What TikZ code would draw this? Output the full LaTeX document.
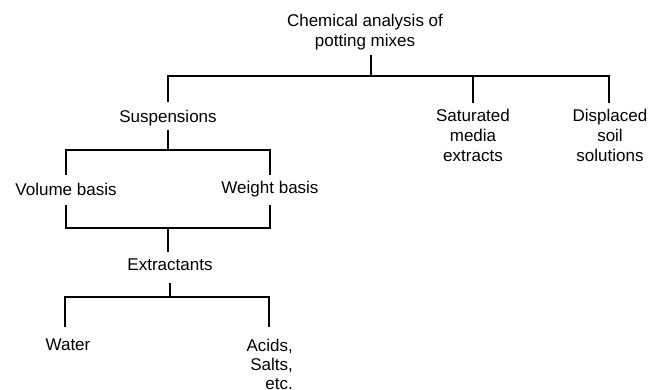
\documentclass[tikz,border=0pt]{standalone}
\usepackage{fontspec}
\setmainfont{Liberation Sans}
\begin{document}
\begin{tikzpicture}[x=1pt,y=-1pt,
  lbl/.style={font=\fontsize{17}{20}\selectfont, align=center, inner sep=0pt},
  ln/.style={line width=1.2pt},
  thk/.style={line width=2.6pt}]
\useasboundingbox (0,0) rectangle (661,390);
% texts
\node[lbl] (title) at (365,32) {Chemical analysis of\\potting mixes};
\node[lbl] (susp) at (168,118) {Suspensions};
\node[lbl] (sat) at (473,135) {Saturated\\media\\extracts};
\node[lbl] (disp) at (610,135) {Displaced\\soil\\solutions};
\node[lbl] (vol) at (66,189) {Volume basis};
\node[lbl] (wt) at (270,189) {Weight basis};
\node[lbl] (extr) at (170,265) {Extractants};
\node[lbl] (water) at (68,345) {Water};
\node[lbl, align=right, anchor=east, font=\fontsize{17}{19}\selectfont] (acid) at (293,364) {Acids,\\Salts,\\etc.};
% junction coordinates
\coordinate (s1) at (371,55);
\coordinate (j1) at (371,76);
\coordinate (a1) at (168,102);
\coordinate (a2) at (473,103);
\coordinate (a3) at (609,103);
\coordinate (s2) at (168,130);
\coordinate (j2) at (168,150);
\coordinate (b1) at (66,175);
\coordinate (b2) at (270,175);
\coordinate (c1) at (66,205);
\coordinate (c2) at (270,205);
\coordinate (j3) at (168,228);
\coordinate (s3) at (168,252);
\coordinate (s4) at (170,283);
\coordinate (j4) at (170,297);
\coordinate (d1) at (65,327);
\coordinate (d2) at (269,327);
% connectors
\draw[ln] (s1) -- (j1);
\draw[ln] (a1) |- (j1) -| (a3);
\draw[ln] (a2) -- (a2 |- j1);
\draw[ln] (s2) -- (j2);
\draw[ln] (b1) |- (j2) -| (b2);
\draw[ln] (c1) |- (j3) -| (c2);
\draw[ln] (j3) -- (s3);
\draw[thk] (s4) -- (j4);
\draw[ln] (d1) |- (j4) -| (d2);
\end{tikzpicture}
\end{document}
